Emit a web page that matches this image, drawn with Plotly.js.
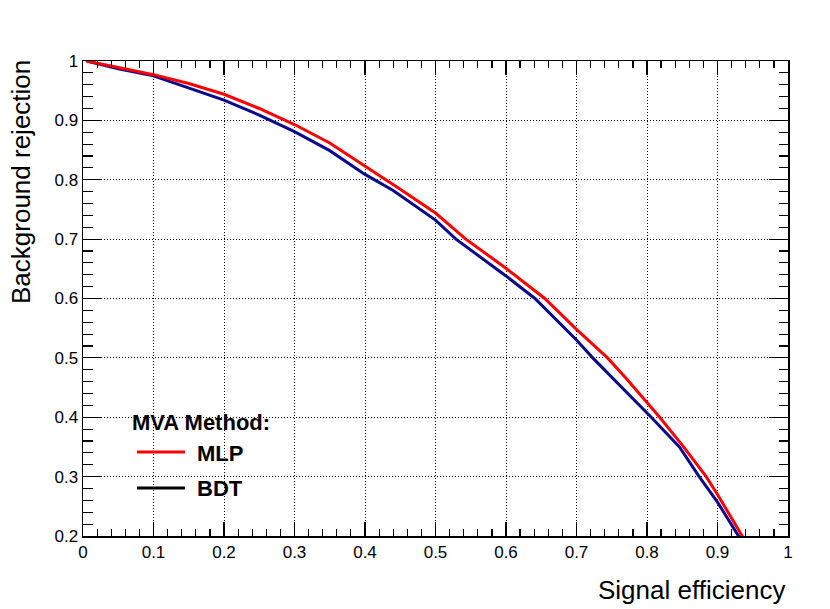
<!DOCTYPE html>
<html>
<head>
<meta charset="utf-8">
<script src="https://cdn.plot.ly/plotly-3.0.1.min.js"></script>
<style>html,body{margin:0;padding:0;background:#fff;}#chart{width:830px;height:609px;}</style>
</head>
<body>
<div id="chart"></div>
<script>
// Signal efficiency vs background rejection (ROC curves)
const mlpEff = [0.005,0.05,0.1,0.15,0.2,0.25,0.3,0.35,0.4,0.431,0.45,0.5,0.543,0.6,0.655,0.7,0.744,0.77,0.818,0.85,0.884,0.9,0.934,0.940];
const mlpRej = [1.0,0.989,0.977,0.962,0.944,0.920,0.893,0.862,0.823,0.800,0.784,0.744,0.700,0.651,0.600,0.548,0.500,0.466,0.400,0.353,0.300,0.270,0.204,0.190];
const bdtEff = [0.005,0.05,0.1,0.15,0.2,0.25,0.3,0.35,0.4,0.44,0.5,0.529,0.6,0.641,0.7,0.723,0.761,0.806,0.846,0.874,0.9,0.929,0.935];
const bdtRej = [1.0,0.987,0.975,0.955,0.934,0.909,0.881,0.849,0.809,0.782,0.732,0.700,0.638,0.600,0.530,0.500,0.455,0.400,0.350,0.300,0.257,0.203,0.190];
const methodNames = ['MLP','BDT'];
const legendTitle = 'MVA Method:';
const xTitle = 'Signal efficiency';
const yTitle = 'Background rejection';

const FONT = 'Liberation Sans, Arial, Helvetica, sans-serif';

const traces = [
  {x: bdtEff, y: bdtRej, mode: 'lines', name: methodNames[1], line: {color: 'rgb(10,10,140)', width: 3}, showlegend: false},
  {x: mlpEff, y: mlpRej, mode: 'lines', name: methodNames[0], line: {color: 'rgb(255,0,0)', width: 3}, showlegend: false}
];

function axisBase(len, minorLen) {
  return {
    showline: true, linecolor: 'black', linewidth: 1.5, mirror: 'ticks',
    ticks: 'inside', ticklen: len, tickwidth: 1.2, tickcolor: 'black',
    showgrid: true, gridcolor: 'black', griddash: '1px,2px', gridwidth: 1,
    zeroline: false, dtick: 0.1,
    tickfont: {family: FONT, size: 17, color: 'black'},
    minor: {dtick: 0.02, ticks: 'inside', ticklen: minorLen, tickwidth: 1.2, tickcolor: 'black', showgrid: false}
  };
}

const xaxis = Object.assign(axisBase(14, 7), {range: [0, 1], tick0: 0});
const yaxis = Object.assign(axisBase(19, 9.5), {range: [0.2, 1], tick0: 0.2});

const px = v => (v - 83) / 705;
const py = v => (536 - v) / 475;

const layout = {
  width: 830, height: 609,
  margin: {l: 83, r: 42, t: 61, b: 73},
  paper_bgcolor: 'white', plot_bgcolor: 'white',
  showlegend: false,
  xaxis: xaxis, yaxis: yaxis,
  font: {family: FONT, color: 'black'},
  shapes: [
    {type: 'line', xref: 'paper', yref: 'paper', x0: px(137), x1: px(185), y0: py(452), y1: py(452), line: {color: 'rgb(255,0,0)', width: 3}},
    {type: 'line', xref: 'paper', yref: 'paper', x0: px(137), x1: px(185), y0: py(488), y1: py(488), line: {color: 'black', width: 3}}
  ],
  annotations: [
    {xref: 'paper', yref: 'paper', x: px(787), y: py(590), xanchor: 'right', yanchor: 'middle', showarrow: false, text: xTitle, font: {family: FONT, size: 26, color: 'black'}},
    {xref: 'paper', yref: 'paper', x: px(21), y: py(58), xanchor: 'center', yanchor: 'top', showarrow: false, textangle: -90, text: yTitle, font: {family: FONT, size: 26, color: 'black'}},
    {xref: 'paper', yref: 'paper', x: px(130), y: py(422), xanchor: 'left', yanchor: 'middle', showarrow: false, text: '<b>' + legendTitle + '</b>', font: {family: FONT, size: 22, color: 'black'}},
    {xref: 'paper', yref: 'paper', x: px(195), y: py(453), xanchor: 'left', yanchor: 'middle', showarrow: false, text: '<b>' + methodNames[0] + '</b>', font: {family: FONT, size: 22, color: 'black'}},
    {xref: 'paper', yref: 'paper', x: px(195), y: py(488), xanchor: 'left', yanchor: 'middle', showarrow: false, text: '<b>' + methodNames[1] + '</b>', font: {family: FONT, size: 22, color: 'black'}}
  ]
};

Plotly.newPlot('chart', traces, layout, {staticPlot: true, displayModeBar: false});
</script>
</body>
</html>
